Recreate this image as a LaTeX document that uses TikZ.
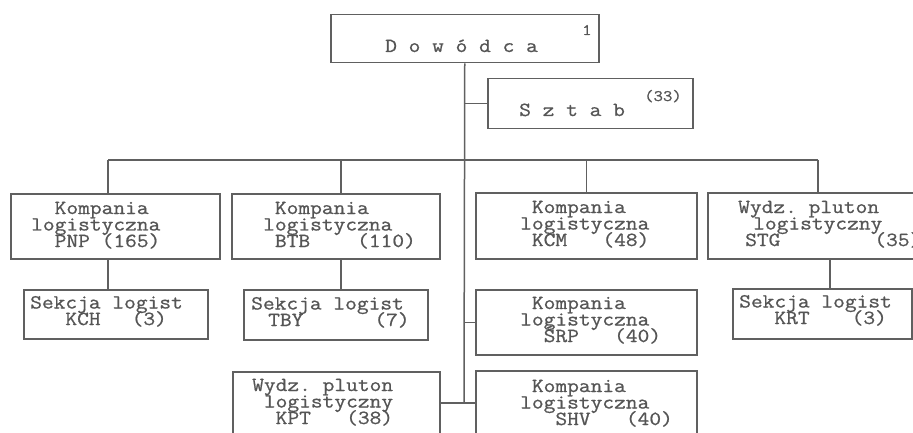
\documentclass[tikz,border=0pt]{standalone}
\usepackage{fontspec}
\setmonofont[FakeStretch=1.14,FakeBold=0.8]{Latin Modern Mono}
\definecolor{ink}{HTML}{555555}
\definecolor{linec}{HTML}{606060}
\newcommand\mylblfont{\ttfamily\fontsize{20}{16.5}\selectfont\lineskiplimit=-30pt\relax}
\newcommand\mysupfont{\ttfamily\fontsize{16}{16}\selectfont}
\tikzset{
 box/.style={draw=linec, line width=1.5pt, rectangle, inner sep=0pt, anchor=north west},
 conn/.style={draw=linec, line width=1.5pt},
 lbl/.style={inner sep=0pt, anchor=base west, align=left, text=ink, font=\mylblfont},
 supr/.style={inner sep=0pt, anchor=base west, text=ink, font=\mysupfont},
}
\begin{document}
\begin{tikzpicture}[x=1pt,y=-1pt]
\useasboundingbox[fill=white] (0,0) rectangle (913,433);
\clip (0,0) rectangle (913,433);
% boxes
\node[box, minimum width=268pt, minimum height=48pt] (dow) at (330,14) {};
\node[box, minimum width=205pt, minimum height=50pt] (szt) at (487,78) {};
\node[box, minimum width=209pt, minimum height=65pt] (pnp) at (10,193) {};
\node[box, minimum width=208pt, minimum height=65pt] (btb) at (231,193) {};
\node[box, minimum width=221pt, minimum height=66pt] (kcm) at (475,192) {};
\node[box, minimum width=220pt, minimum height=66pt] (stg) at (707,192) {};
\node[box, minimum width=184pt, minimum height=49pt] (kch) at (23,289) {};
\node[box, minimum width=184pt, minimum height=50pt] (tby) at (243,289) {};
\node[box, minimum width=221pt, minimum height=65pt] (srp) at (475,289) {};
\node[box, minimum width=179pt, minimum height=50pt] (krt) at (732,288) {};
\node[box, minimum width=207pt, minimum height=70pt] (kpt) at (232,371) {};
\node[box, minimum width=221pt, minimum height=70pt] (shv) at (475,370) {};
% texts (anchor = baseline of the last line)
\node[lbl] (dowT) at (385,52) {D~o~w~ó~d~c~a};
\node[supr] (dowN) at (582,35) {1};
\node[lbl] (sztT) at (519,116) {S~z~t~a~b};
\node[supr] (sztN) at (644,101) {(33)};
\node[lbl] (pnpT) at (31,247) {~~Kompania\\logistyczna\\~~PNP~(165)};
\node[lbl] (btbT) at (263,247) {~Kompania\\logistyczna\\~BTB~~~~(110)};
\node[lbl] (kcmT) at (520,246) {~Kompania\\logistyczna\\~KCM~~~(48)};
\node[lbl] (stgT) at (738,246) {Wydz.~pluton\\\hspace{15pt}logistyczny\\\hspace{7pt}STG~~~~~~~~(35)};
\node[lbl] (kchT) at (30,325) {Sekcja~logist\\~~~KCH\hspace{31pt}(3)};
\node[lbl] (tbyT) at (251,326) {Sekcja~logist\\\hspace{17pt}TBY\hspace{71pt}(7)};
\node[lbl] (srpT) at (520,342) {~Kompania\\logistyczna\\~~ŚRP~~~(40)};
\node[lbl] (krtT) at (739,324) {Sekcja~logist\\~~~KRT\hspace{42pt}(3)};
\node[lbl] (kptT) at (252,424) {Wydz.~pluton\\~logistyczny\\~~KPT~~~(38)};
\node[lbl] (shvT) at (520,425) {~Kompania\\logistyczna\\~~~SHV~~~(40)};
% connectors
\coordinate (bot) at (464,403);
\coordinate (busL) at (108,160);
\coordinate (busB) at (341,160);
\coordinate (busR) at (818,160);
\coordinate (stgc) at (830,258);
\draw[conn] (dow.south) -- (bot);
\draw[conn] (dow.south |- szt.west) -- (szt.west);
\draw[conn] (busL) -- (busR);
\draw[conn] (busL) -- (busL |- pnp.north);
\draw[conn] (busB) -- (busB |- btb.north);
\draw[conn] (kcm.north |- busL) -- (kcm.north);
\draw[conn] (busR) -- (busR |- stg.north);
\draw[conn] (busL |- pnp.south) -- (busL |- kch.north);
\draw[conn] (busB |- btb.south) -- (busB |- tby.north);
\draw[conn] (stgc) -- (stgc |- krt.north);
\draw[conn] (dow.south |- srp.west) -- (srp.west);
\draw[conn] (kpt.east |- bot) -- (shv.west |- bot);
\end{tikzpicture}
\end{document}
